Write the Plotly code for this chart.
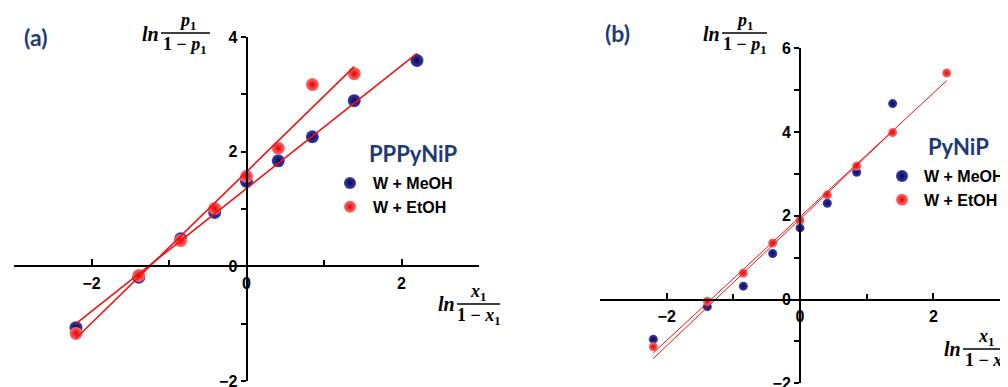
import numpy as np
import plotly.graph_objects as go

# ---------------- data ----------------
x_ln = [-2.20, -1.39, -0.85, -0.41, 0.0, 0.41, 0.85, 1.39, 2.20]

a_meoh = [-1.07, -0.19, 0.48, 0.94, 1.48, 1.84, 2.26, 2.89, 3.59]
a_etoh = [-1.17, -0.16, 0.45, 1.01, 1.57, 2.06, 3.17, 3.36]

b_meoh = [-0.95, -0.17, 0.32, 1.10, 1.71, 2.30, 3.04, 4.68]
b_etoh = [-1.13, -0.04, 0.63, 1.35, 1.89, 2.50, 3.19, 3.99, 5.41]

series_names = ["W + MeOH", "W + EtOH"]
panel_titles = ["PPPyNiP", "PyNiP"]
panel_tags = ["(a)", "(b)"]
x_ticks = [-2, 0, 2]
ya_ticks = [-2, 0, 2, 4]
yb_ticks = [-2, 0, 2, 4, 6]

# ---------------- styling ----------------
W, H = 1008, 387
OFF = 8  # page body margin of the browser
NAVY = "#1d3a78"
BLUE_C, BLUE_E = "#3a3ab0", "#07074a"
RED_C, RED_E = "#ff7070", "#e40000"
LINE_RED = "#ee1111"


def PX(x):
    return (x - OFF) / W


def PY(y):
    return 1 - (y - OFF) / H


xa_dom = [PX(14), PX(479)]
ya_dom = [PY(381), PY(37)]
xb_dom = [PX(600), PX(1000)]
yb_dom = [PY(383.3), PY(48.3)]


def frac_pos(dom, rng, v):
    return dom[0] + (dom[1] - dom[0]) * (v - rng[0]) / (rng[1] - rng[0])


fig = go.Figure()


def add_panel(xs_m, ys_m, xs_e, ys_e, xa, ya, legend, msize, lw):
    fig.add_trace(go.Scatter(
        x=xs_m, y=ys_m, mode="markers", name=series_names[0],
        xaxis=xa, yaxis=ya, legend=legend,
        marker=dict(size=msize, color=BLUE_C,
                    gradient=dict(type="radial", color=BLUE_E),
                    line=dict(width=0))))
    fig.add_trace(go.Scatter(
        x=xs_e, y=ys_e, mode="markers", name=series_names[1],
        xaxis=xa, yaxis=ya, legend=legend,
        marker=dict(size=msize, color=RED_C,
                    gradient=dict(type="radial", color=RED_E),
                    line=dict(width=0))))
    for xs, ys in ((xs_m, ys_m), (xs_e, ys_e)):
        k, b = np.polyfit(xs, ys, 1)
        xx = np.array([min(xs), max(xs)])
        fig.add_trace(go.Scatter(
            x=xx, y=k * xx + b, mode="lines", showlegend=False,
            xaxis=xa, yaxis=ya, hoverinfo="skip",
            line=dict(color=LINE_RED, width=lw)))


add_panel(x_ln, a_meoh, x_ln[:len(a_etoh)], a_etoh, "x", "y", "legend", 13, 1.6)
add_panel(x_ln[:len(b_meoh)], b_meoh, x_ln, b_etoh, "x2", "y2", "legend2", 9, 1.0)

tickfont = dict(family="Liberation Sans, Arial", size=16, color="black", weight="bold")


def lbl(v):
    return ("\u2212" + str(-v)) if v < 0 else str(v)


def xaxis_cfg(dom, ydom, yr):
    return dict(domain=dom, range=[-3, 3], anchor="free",
                position=frac_pos(ydom, yr, 0),
                showline=True, linecolor="black", linewidth=2,
                ticks="inside", ticklen=6, tickwidth=2, tickcolor="black",
                tickvals=x_ticks, ticktext=[lbl(v) for v in x_ticks],
                tickfont=tickfont, ticklabelstandoff=2,
                minor=dict(dtick=1, ticks="inside", ticklen=5, tickwidth=2,
                           tickcolor="black", showgrid=False),
                showgrid=False, zeroline=False, fixedrange=True,
                automargin=False)


def yaxis_cfg(dom, xdom, yr, ticks):
    return dict(domain=dom, range=yr, anchor="free",
                position=frac_pos(xdom, [-3, 3], 0),
                showline=True, linecolor="black", linewidth=2,
                ticks="outside", ticklen=5, tickwidth=2, tickcolor="black",
                tickvals=ticks, ticktext=[lbl(v) for v in ticks],
                tickfont=tickfont,
                minor=dict(dtick=1, ticks="outside", ticklen=5, tickwidth=2,
                           tickcolor="black", showgrid=False),
                showgrid=False, zeroline=False, fixedrange=True,
                automargin=False)


legend_font = dict(family="Liberation Sans, Arial", size=16, color="black", weight="bold")

fig.update_layout(
    width=W, height=H,
    margin=dict(l=0, r=0, t=0, b=0, autoexpand=False),
    paper_bgcolor="white", plot_bgcolor="white",
    showlegend=True,
    xaxis=xaxis_cfg(xa_dom, ya_dom, [-2, 4]),
    yaxis=yaxis_cfg(ya_dom, xa_dom, [-2, 4], ya_ticks),
    xaxis2=xaxis_cfg(xb_dom, yb_dom, [-2, 6]),
    yaxis2=yaxis_cfg(yb_dom, xb_dom, [-2, 6], yb_ticks),
    legend=dict(x=PX(327), y=PY(166), xanchor="left", yanchor="top",
                bgcolor="rgba(0,0,0,0)", font=legend_font,
                itemsizing="constant", tracegroupgap=0, itemwidth=36),
    legend2=dict(x=PX(880), y=PY(159), xanchor="left", yanchor="top",
                 bgcolor="rgba(0,0,0,0)", font=legend_font,
                 itemsizing="constant", tracegroupgap=0, itemwidth=34),
)

annotations = []
shapes = []


def txt(x, y, text, size, family, color="black"):
    annotations.append(dict(x=PX(x), y=PY(y), xref="paper", yref="paper",
                            text=text, showarrow=False, xanchor="center",
                            yanchor="middle",
                            font=dict(size=size, family=family, color=color)))


SERIF = "Liberation Serif, DejaVu Serif"


def fraction_label(ln_xy, num_xy, bar, den_xy, var):
    txt(ln_xy[0], ln_xy[1], "<b><i>ln</i></b>", 20, SERIF)
    txt(num_xy[0], num_xy[1], f"<b><i>{var}</i><sub>1</sub></b>", 18, SERIF)
    txt(den_xy[0], den_xy[1], f"<b>1 \u2212 <i>{var}</i><sub>1</sub></b>", 18, SERIF)
    shapes.append(dict(type="line", xref="paper", yref="paper",
                       x0=PX(bar[0]), x1=PX(bar[1]),
                       y0=PY(bar[2]), y1=PY(bar[2]),
                       line=dict(color="black", width=1.3)))


fraction_label((150, 34), (187, 21), (161, 210, 33), (185, 46), "p")
fraction_label((446, 304), (478, 292), (457, 500, 304), (479, 316), "x")
fraction_label((711, 34), (744, 22), (722, 767, 33), (745, 46), "p")
fraction_label((952, 349), (986, 337), (963, 1008, 349), (987, 361), "x")

TITLE_FONT = "Lato, Open Sans, Liberation Sans"
txt(35, 37, f"<b>{panel_tags[0]}</b>", 23, TITLE_FONT, NAVY)
txt(617, 33, f"<b>{panel_tags[1]}</b>", 23, TITLE_FONT, NAVY)
txt(413, 153, f"<b>{panel_titles[0]}</b>", 22, TITLE_FONT, NAVY)
txt(958, 146, f"<b>{panel_titles[1]}</b>", 22, TITLE_FONT, NAVY)

fig.update_layout(annotations=annotations, shapes=shapes)

fig.write_html("out.html")
